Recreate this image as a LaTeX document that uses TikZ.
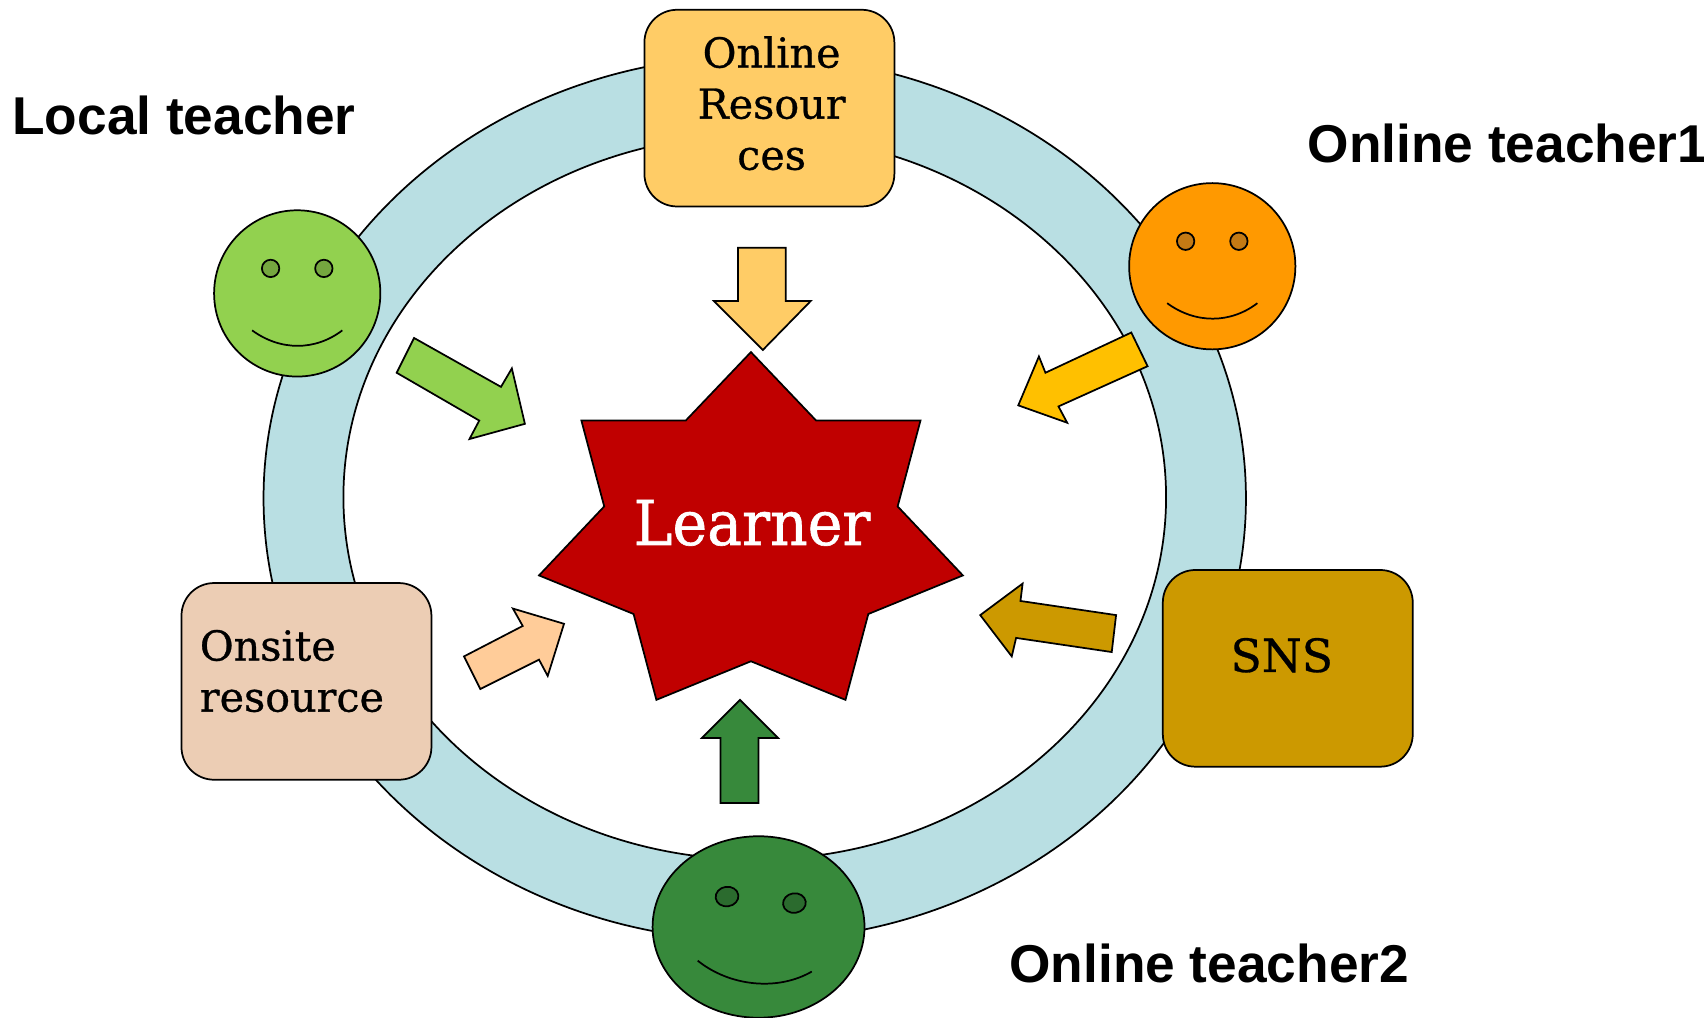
\documentclass[tikz,border=0pt]{standalone}
\usepackage{fontspec}
\usetikzlibrary{shapes.geometric}
\setmainfont{DejaVu Serif}[FakeBold=0.7]
\newfontfamily\learnerfont{DejaVu Serif}[FakeBold=1.0,FakeStretch=0.945]
\newfontfamily\lab{Liberation Sans}
\tikzset{
  outl/.style={draw=black,line width=0.8pt},
  box/.style={outl,rounded corners=15pt,minimum width=115pt,minimum height=90.5pt,inner sep=0pt},
  boxtext/.style={inner sep=0pt,font=\fontsize{19}{23.5}\selectfont},
  face/.style={outl,circle,minimum size=76.5pt,inner sep=0pt},
  eye/.style={outl,circle,minimum size=8pt,inner sep=0pt},
  bigface/.style={outl,ellipse,minimum width=97.5pt,minimum height=83.5pt,inner sep=0pt},
  bigeye/.style={outl,ellipse,minimum width=10.5pt,minimum height=9pt,inner sep=0pt,rotate=8},
  smile/.style={draw=black,line width=0.8pt},
  lbl/.style={font=\lab\bfseries\fontsize{24.5}{29}\selectfont,inner sep=0pt},
  blockarrow/.style={outl,line join=miter}
}
\definecolor{ringc}{HTML}{B9DFE3}
\definecolor{resc}{HTML}{FFCC66}
\definecolor{lgreen}{HTML}{92D14F}
\definecolor{lgreeneye}{HTML}{75A73F}
\definecolor{orangec}{HTML}{FF9900}
\definecolor{orangeeye}{HTML}{C47A14}
\definecolor{amber}{HTML}{FFC000}
\definecolor{snsc}{HTML}{CC9900}
\definecolor{dgreen}{HTML}{37893B}
\definecolor{dgreeneye}{HTML}{2B6B2E}
\definecolor{onsitec}{HTML}{ECCDB4}
\definecolor{peach}{HTML}{FFCC99}
\definecolor{starc}{HTML}{C00000}
\begin{document}
\begin{tikzpicture}[x=0.5pt,y=-0.5pt]
\useasboundingbox (0,0) rectangle (1568,936);
% ring
\path[outl,fill=ringc,even odd rule] (694.5,458.5) ellipse [x radius=452,y radius=407]
  (694.5,457.5) ellipse [x radius=378.5,y radius=333.5];
% boxes
\node[box,fill=resc] (res) at (708,99.5) {};
\node[boxtext,align=center] (restxt) at (710,95) {Online\\Resour\\ces};
\node[box,fill=snsc] (sns) at (1185,615) {};
\node[boxtext,font=\fontsize{21}{25}\selectfont] (snstxt) at (1179.5,603) {SNS};
\node[box,fill=onsitec] (ons) at (282,627) {};
\node[boxtext,align=left,anchor=west] (onstxt) at (183.5,617.5) {Onsite\\resource};
% faces
\node[face,fill=lgreen] (f1) at (273.5,270) {};
\node[eye,fill=lgreeneye] (f1a) at (249,247) {};
\node[eye,fill=lgreeneye] (f1b) at (298,247) {};
\draw[smile] (232,304) .. controls (258,323) and (290,323) .. (315,304);
\node[face,fill=orangec] (f2) at (1115.5,245) {};
\node[eye,fill=orangeeye] (f2a) at (1091,222) {};
\node[eye,fill=orangeeye] (f2b) at (1140,222) {};
\draw[smile] (1074,279) .. controls (1100,298) and (1132,298) .. (1157,279);
\node[bigface,fill=dgreen] (f3) at (698,853) {};
\node[bigeye,fill=dgreeneye] (f3a) at (669,825) {};
\node[bigeye,fill=dgreeneye] (f3b) at (731,831) {};
\draw[smile] (642,884) .. controls (672,908) and (716,912) .. (747,894);
% star
\draw[outl,fill=starc] (691,324) -- (751,387) -- (847,387) -- (826,466) -- (886,529.5) -- (799,565)
  -- (778,644) -- (691,608.5) -- (604,644) -- (583,565) -- (496,529.5) -- (556,466) -- (535,387) -- (631,387) -- cycle;
\node[text=white,font=\learnerfont\fontsize{28.5}{34}\selectfont,inner sep=0pt,anchor=base] (learner) at (692,501.5) {Learner};
% arrows
\draw[blockarrow,fill=resc] (679,228) -- (723,228) -- (723,277) -- (746,277) -- (702,322) -- (657,277) -- (679,277) -- cycle;
\draw[blockarrow,fill=lgreen] (381,311) -- (461,356) -- (471,339) -- (483,390) -- (432,404) -- (441,387) -- (365,343) -- cycle;
\draw[blockarrow,fill=amber] (1041,306) -- (1056,337) -- (974,374) -- (982,389) -- (937,373) -- (956,328) -- (962,343) -- cycle;
\draw[blockarrow,fill=snsc] (1027,566) -- (1023,600) -- (935,587) -- (931,604) -- (902,566) -- (941,537) -- (939,553) -- cycle;
\draw[blockarrow,fill=peach] (427,604) -- (481,576) -- (472,560) -- (519,574) -- (504,622) -- (496,607) -- (442,634) -- cycle;
\draw[blockarrow,fill=dgreen] (663,739) -- (698,739) -- (698,679) -- (716,679) -- (681,644) -- (646,679) -- (663,679) -- cycle;
% labels
\node[lbl,anchor=west] (l1) at (11,106) {Local teacher};
\node[lbl,anchor=west] (l2) at (1203,132) {Online teacher1};
\node[lbl,anchor=west] (l3) at (928.5,887) {Online teacher2};
\end{tikzpicture}
\end{document}
